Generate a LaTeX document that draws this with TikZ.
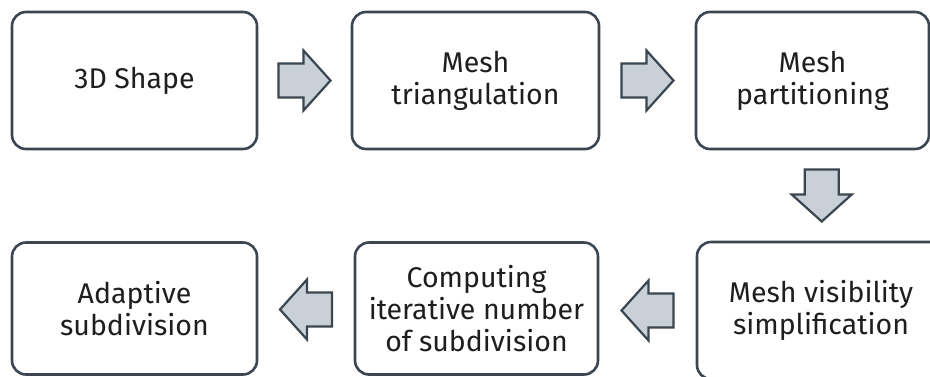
\documentclass[tikz,border=0pt]{standalone}
\usepackage{fontspec}
\setmainfont{Fira Sans}
\usetikzlibrary{calc}
\definecolor{edgecol}{HTML}{3B4650}
\definecolor{arrfill}{HTML}{C9D0D8}
\definecolor{txtcol}{HTML}{1E1E1E}
\tikzset{
  stepbox/.style={draw=edgecol, line width=2.6pt, rounded corners=14pt, fill=white,
    text=txtcol, align=center, inner sep=0pt, minimum height=137pt,
    font=\fontsize{28.5}{32}\selectfont},
  blockarrow/.style={draw=edgecol, fill=arrfill, line width=2.2pt, line join=miter}
}
\newcommand{\blockarrowat}[2]{%
  \draw[blockarrow, shift={(#1)}, rotate=#2]
    (-26,-17) -- (-1,-17) -- (-1,-30) -- (26,0) -- (-1,30) -- (-1,17) -- (-26,17) -- cycle;}
\begin{document}
\begin{tikzpicture}[x=1pt,y=-1pt]
\useasboundingbox (0,0) rectangle (930,376);
\node[stepbox, minimum width=245pt] (b1) at (134.5,80.5) {3D Shape};
\node[stepbox, minimum width=247pt] (b2) at (475.5,80.5) {Mesh\\triangulation};
\node[stepbox, minimum width=233pt] (b3) at (812.5,80.5) {Mesh\\partitioning};
\node[stepbox, minimum width=248pt] (b4) at (821,310.5) {Mesh visibility\\simplification};
\node[stepbox, minimum width=243pt, minimum height=132pt] (b5) at (476.5,308.5) {Computing\\iterative number\\of subdivision};
\node[stepbox, minimum width=245pt, minimum height=132pt] (b6) at (134.5,308.5) {Adaptive\\subdivision};
\coordinate (a1) at ($(b1.east)!0.5!(b2.west)$);
\coordinate (a2) at ($(b2.east)!0.5!(b3.west)$);
\coordinate (a3) at ($(b3.south)!0.5!(b4.north)+(5,0)$);
\coordinate (a4) at ($(b4.west)!0.5!(b5.east)+(0,1)$);
\coordinate (a5) at ($(b5.west)!0.5!(b6.east)+(0,1)$);
\blockarrowat{a1}{0}
\blockarrowat{a2}{0}
\blockarrowat{a3}{-90}
\blockarrowat{a4}{180}
\blockarrowat{a5}{180}
\end{tikzpicture}
\end{document}
